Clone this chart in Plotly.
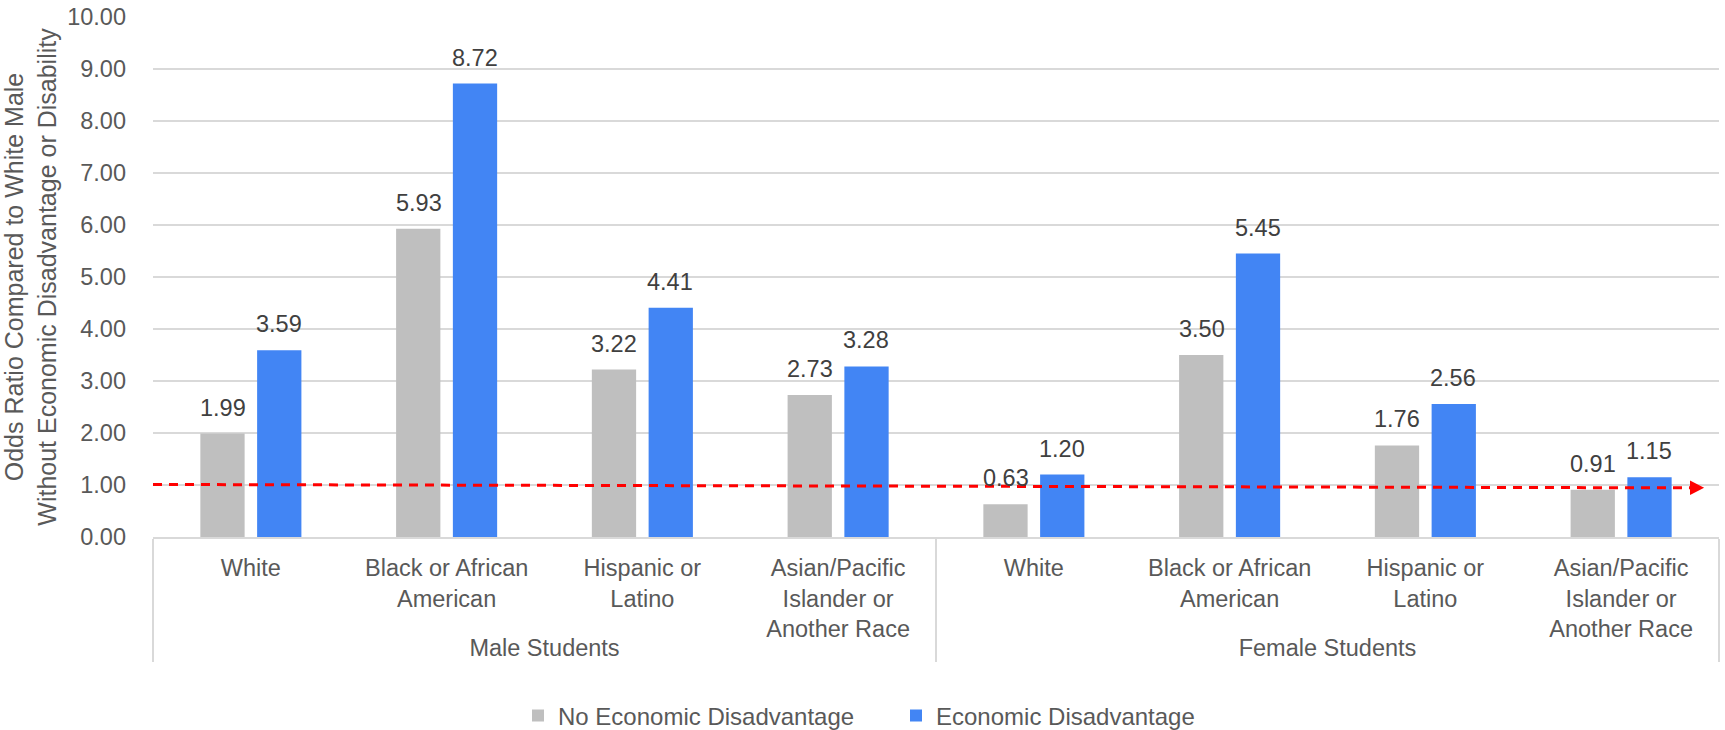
import plotly.graph_objects as go

# ---- data ----
groups = ["Male Students"] * 4 + ["Female Students"] * 4
races = ["White", "Black or African<br>American", "Hispanic or<br>Latino",
         "Asian/Pacific<br>Islander or<br>Another Race"] * 2
no_econ = [1.99, 5.93, 3.22, 2.73, 0.63, 3.50, 1.76, 0.91]
econ = [3.59, 8.72, 4.41, 3.28, 1.20, 5.45, 2.56, 1.15]
series_names = ["No Economic Disadvantage", "Economic Disadvantage"]
y_ticks = [0, 1, 2, 3, 4, 5, 6, 7, 8, 9, 10]
ref_value = 1.0

GREY = "#bfbfbf"
BLUE = "#4285f4"
TXT = "#595959"
LBL = "#404040"
FONT = "Liberation Sans, Arial, sans-serif"

fig = go.Figure()
fig.add_trace(go.Bar(x=[groups, races], y=no_econ, name=series_names[0],
                     marker=dict(color=GREY, line=dict(width=0))))
fig.add_trace(go.Bar(x=[groups, races], y=econ, name=series_names[1],
                     marker=dict(color=BLUE, line=dict(width=0))))

# value labels above bars (offset to each bar of the group)
bar_shift = 28
for i in range(len(groups)):
    for vals, sh in ((no_econ, -bar_shift), (econ, bar_shift)):
        fig.add_annotation(x=i, y=vals[i], xref="x", yref="y", text=f"{vals[i]:.2f}",
                           showarrow=False, xshift=sh, yshift=11, yanchor="bottom",
                           font=dict(size=23.5, color=LBL, family=FONT))

# red dashed reference line with arrow head
fig.add_shape(type="line", xref="paper", yref="y", x0=0, x1=0.982,
              y0=ref_value + 0.01, y1=ref_value - 0.055,
              line=dict(color="#ff0000", width=3, dash="9px,7px"))
fig.add_shape(type="path", xref="paper", yref="y",
              path=f"M 0.9815,{ref_value + 0.085} L 0.9905,{ref_value - 0.052} L 0.9815,{ref_value - 0.19} Z",
              fillcolor="#ff0000", line=dict(width=0))

fig.update_layout(
    width=1725, height=730,
    margin=dict(l=153, r=6, t=17, b=193, autoexpand=False),
    plot_bgcolor="white", paper_bgcolor="white",
    barmode="group", bargap=0.42, bargroupgap=0.22,
    font=dict(family=FONT, color=TXT, size=23.5),
    showlegend=True,
    legend=dict(orientation="h", xref="container", yref="container",
                x=518 / 1725, xanchor="left", y=1 - 716 / 730, yanchor="middle",
                font=dict(size=24, color=TXT, family=FONT), itemwidth=30,
                entrywidth=333, entrywidthmode="pixels",
                traceorder="normal"),
)
fig.update_yaxes(range=[0, 10], tickvals=y_ticks, tickformat=".2f",
                 showgrid=True, gridcolor="#d9d9d9", gridwidth=1.7,
                 zeroline=False, showline=False, ticks="",
                 ticklabelstandoff=26,
                 tickfont=dict(size=23.5, color=TXT, family=FONT),
                 title=dict(text="Odds Ratio Compared to White Male<br>Without Economic Disadvantage or Disability",
                            font=dict(size=25, color=TXT, family=FONT), standoff=12))
fig.update_xaxes(type="multicategory", showline=True, linecolor="#d9d9d9", linewidth=2,
                 showdividers=True, dividercolor="#d9d9d9", dividerwidth=2,
                 showgrid=False, ticks="", ticklabelstandoff=9,
                 tickfont=dict(size=23.5, color=TXT, family=FONT))

fig.write_html("out.html")
